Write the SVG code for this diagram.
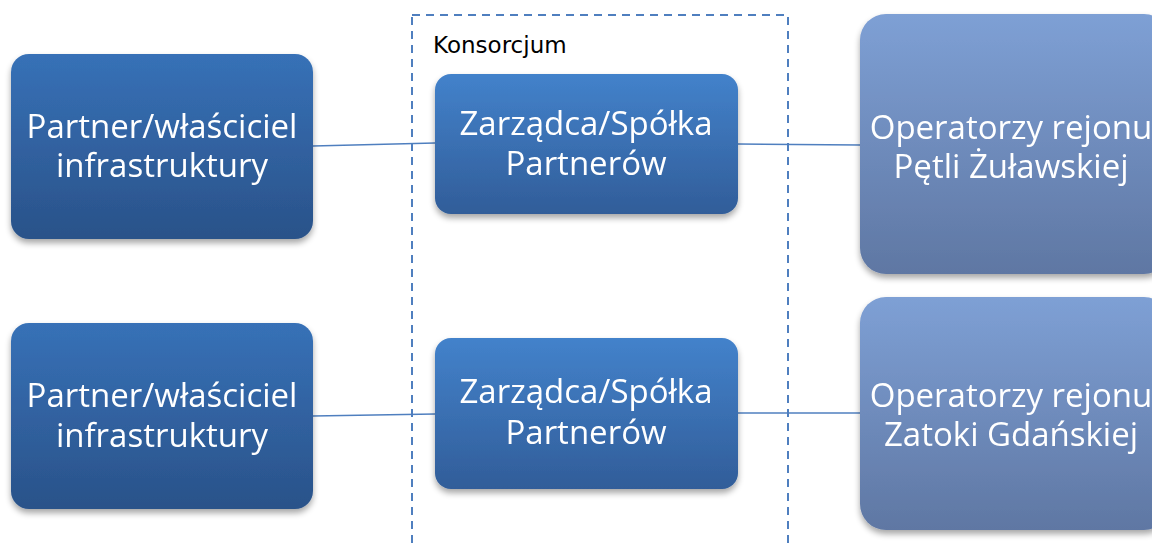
<svg xmlns="http://www.w3.org/2000/svg" width="1152" height="544" viewBox="0 0 1152 544">
<defs>
<linearGradient id="gL" x1="0" y1="0" x2="0" y2="1"><stop offset="0" stop-color="#3771B7"/><stop offset="1" stop-color="#2A5289"/></linearGradient>
<linearGradient id="gM" x1="0" y1="0" x2="0" y2="1"><stop offset="0" stop-color="#4382CB"/><stop offset="1" stop-color="#315D99"/></linearGradient>
<linearGradient id="gR" x1="0" y1="0" x2="0" y2="1"><stop offset="0" stop-color="#7EA0D5"/><stop offset="1" stop-color="#5F77A3"/></linearGradient>
<filter id="sh" x="-10%" y="-10%" width="120%" height="125%"><feGaussianBlur in="SourceAlpha" stdDeviation="3"/><feOffset dy="4"/><feComponentTransfer><feFuncA type="linear" slope="0.35"/></feComponentTransfer><feMerge><feMergeNode/><feMergeNode in="SourceGraphic"/></feMerge></filter>
</defs>
<style>
.t{font-family:"Open Sans","Noto Sans",sans-serif;font-size:33px;fill:#ffffff;text-anchor:middle}
.c{stroke:#4F7FBF;stroke-width:1.6;fill:none}
.lbl{font-family:"DejaVu Sans","Liberation Sans",sans-serif;font-size:23px;fill:#000}
</style>
<rect width="1152" height="544" fill="#ffffff"/>
<g id="konsorcjum">
<rect x="412" y="15" width="376" height="560" fill="none" stroke="#4F7FBF" stroke-width="2" stroke-dasharray="8,6"/>
<text class="lbl" x="433" y="53">Konsorcjum</text>
</g>
<g id="connectors">
<line class="c" x1="313" y1="146" x2="435" y2="143"/>
<line class="c" x1="738" y1="144" x2="860" y2="145"/>
<line class="c" x1="313" y1="416" x2="435" y2="414"/>
<line class="c" x1="738" y1="413" x2="860" y2="413"/>
</g>
<g id="partner1" filter="url(#sh)">
<rect x="11" y="54" width="302" height="185" rx="18" fill="url(#gL)"/>
<text class="t" x="162" y="138">Partner/właściciel</text>
<text class="t" x="162" y="177">infrastruktury</text>
</g>
<g id="partner2" filter="url(#sh)">
<rect x="11" y="323" width="302" height="186" rx="18" fill="url(#gL)"/>
<text class="t" x="162" y="407">Partner/właściciel</text>
<text class="t" x="162" y="447">infrastruktury</text>
</g>
<g id="zarzadca1" filter="url(#sh)">
<rect x="435" y="74" width="303" height="140" rx="16" fill="url(#gM)"/>
<text class="t" x="586" y="135">Zarządca/Spółka</text>
<text class="t" x="586" y="175">Partnerów</text>
</g>
<g id="zarzadca2" filter="url(#sh)">
<rect x="435" y="338" width="303" height="151" rx="16" fill="url(#gM)"/>
<text class="t" x="586" y="403">Zarządca/Spółka</text>
<text class="t" x="586" y="444">Partnerów</text>
</g>
<g id="operatorzy1" filter="url(#sh)">
<rect x="860" y="14" width="310" height="260" rx="26" fill="url(#gR)"/>
<text class="t" x="1011" y="139">Operatorzy rejonu</text>
<text class="t" x="1011" y="178">Pętli Żuławskiej</text>
</g>
<g id="operatorzy2" filter="url(#sh)">
<rect x="860" y="297" width="310" height="233" rx="26" fill="url(#gR)"/>
<text class="t" x="1011" y="407">Operatorzy rejonu</text>
<text class="t" x="1011" y="446">Zatoki Gdańskiej</text>
</g>
</svg>
